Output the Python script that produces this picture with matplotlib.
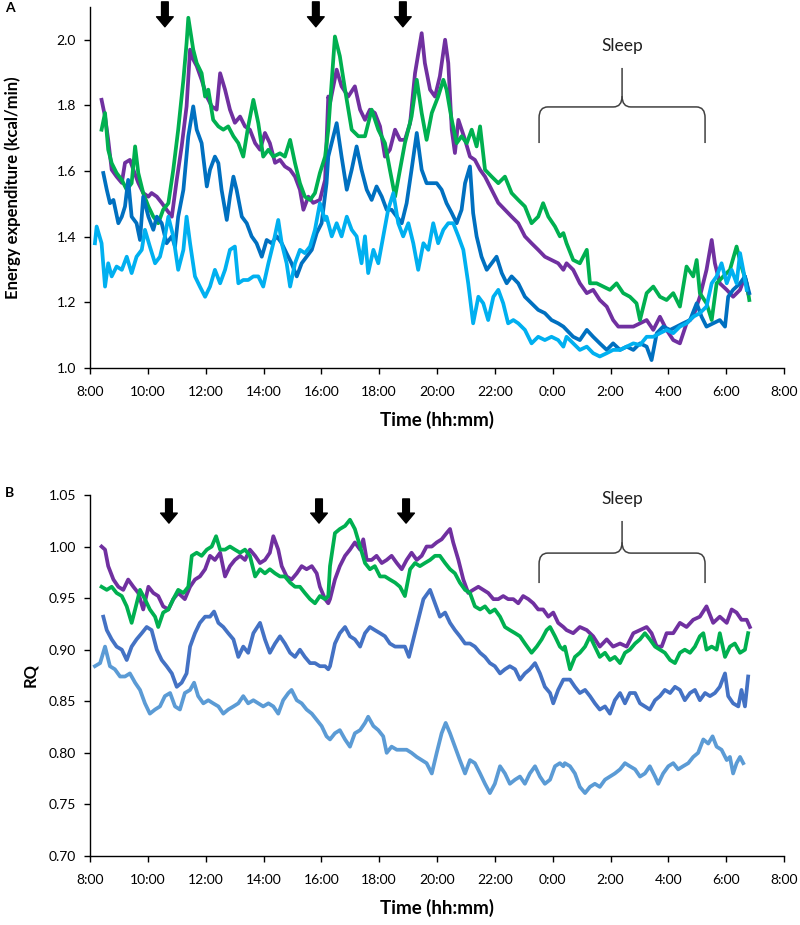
import matplotlib
matplotlib.use("Agg")
import matplotlib.pyplot as plt
from matplotlib.path import Path
from matplotlib.patches import PathPatch
from matplotlib.transforms import blended_transform_factory

plt.rcParams['font.family'] = ['Lato', 'DejaVu Sans']

# time is hours after 8:00 (0 = 8:00, 24 = 8:00 next day)
tick_hours = list(range(0, 25, 2))
tick_labels = ["8:00", "10:00", "12:00", "14:00", "16:00", "18:00", "20:00",
               "22:00", "0:00", "2:00", "4:00", "6:00", "8:00"]

# Panel A - energy expenditure (kcal/min)
ee_purple = [
    (0.40, 1.817), (0.52, 1.766), (0.63, 1.695), (0.75, 1.604), (0.92, 1.583), (1.10, 1.564),
    (1.21, 1.625), (1.38, 1.634), (1.50, 1.604), (1.67, 1.564), (1.84, 1.533), (2.02, 1.522),
    (2.13, 1.533), (2.31, 1.522), (2.48, 1.503), (2.65, 1.482), (2.83, 1.461), (3.00, 1.573),
    (3.17, 1.675), (3.34, 1.797), (3.46, 1.97), (3.57, 1.94), (3.69, 1.92), (3.86, 1.878),
    (4.04, 1.827), (4.21, 1.797), (4.38, 1.787), (4.50, 1.898), (4.67, 1.848), (4.84, 1.787),
    (5.01, 1.747), (5.19, 1.766), (5.36, 1.736), (5.53, 1.726), (5.71, 1.685), (5.88, 1.665),
    (6.05, 1.716), (6.22, 1.685), (6.40, 1.625), (6.57, 1.634), (6.74, 1.614), (6.92, 1.604),
    (7.09, 1.583), (7.26, 1.543), (7.38, 1.482), (7.55, 1.522), (7.72, 1.503), (7.95, 1.512),
    (8.13, 1.573), (8.24, 1.827), (8.30, 1.807), (8.53, 1.909), (8.70, 1.858), (8.93, 1.827),
    (9.16, 1.858), (9.34, 1.787), (9.51, 1.756), (9.68, 1.787), (9.85, 1.777), (10.03, 1.736),
    (10.20, 1.644), (10.37, 1.665), (10.55, 1.726), (10.72, 1.695), (10.89, 1.695), (11.07, 1.746),
    (11.24, 1.898), (11.47, 2.02), (11.58, 1.929), (11.76, 1.848), (11.93, 1.827), (12.10, 1.889),
    (12.28, 2.0), (12.39, 1.929), (12.51, 1.726), (12.62, 1.655), (12.74, 1.756), (12.97, 1.695),
    (13.14, 1.644), (13.31, 1.634), (13.49, 1.604), (13.66, 1.583), (13.89, 1.543), (14.12, 1.503),
    (14.35, 1.482), (14.58, 1.461), (14.81, 1.441), (15.04, 1.401), (15.27, 1.380), (15.50, 1.360),
    (15.73, 1.339), (15.96, 1.329), (16.19, 1.319), (16.37, 1.299), (16.48, 1.319), (16.71, 1.299),
    (16.94, 1.258), (17.18, 1.228), (17.40, 1.238), (17.63, 1.207), (17.87, 1.187), (18.09, 1.146),
    (18.27, 1.126), (18.56, 1.126), (18.79, 1.126), (19.02, 1.136), (19.25, 1.146), (19.48, 1.116),
    (19.71, 1.156), (19.94, 1.116), (20.17, 1.085), (20.40, 1.075), (20.63, 1.136), (20.86, 1.156),
    (21.09, 1.217), (21.32, 1.299), (21.50, 1.390), (21.61, 1.319), (21.78, 1.258), (22.02, 1.238),
    (22.24, 1.217), (22.48, 1.238), (22.65, 1.279), (22.76, 1.228),
]
ee_green = [
    (0.40, 1.726), (0.52, 1.777), (0.63, 1.665), (0.75, 1.624), (0.92, 1.594), (1.10, 1.573),
    (1.27, 1.543), (1.44, 1.563), (1.56, 1.675), (1.67, 1.594), (1.84, 1.533), (2.02, 1.492),
    (2.19, 1.461), (2.36, 1.441), (2.53, 1.482), (2.71, 1.502), (2.88, 1.604), (3.05, 1.726),
    (3.23, 1.878), (3.34, 1.99), (3.40, 2.067), (3.57, 1.97), (3.69, 1.929), (3.86, 1.898),
    (3.98, 1.827), (4.09, 1.848), (4.26, 1.756), (4.44, 1.736), (4.61, 1.726), (4.78, 1.736),
    (4.96, 1.706), (5.13, 1.685), (5.30, 1.644), (5.47, 1.736), (5.65, 1.817), (5.82, 1.746),
    (5.99, 1.644), (6.17, 1.665), (6.34, 1.644), (6.57, 1.654), (6.74, 1.644), (6.92, 1.695),
    (7.09, 1.624), (7.26, 1.563), (7.43, 1.522), (7.61, 1.512), (7.78, 1.533), (7.95, 1.594),
    (8.13, 1.644), (8.24, 1.726), (8.47, 2.01), (8.64, 1.95), (8.82, 1.848), (9.05, 1.726),
    (9.28, 1.706), (9.51, 1.706), (9.74, 1.787), (9.97, 1.726), (10.20, 1.685), (10.37, 1.604),
    (10.55, 1.522), (10.72, 1.604), (10.89, 1.685), (11.12, 1.766), (11.30, 1.878), (11.47, 1.777),
    (11.64, 1.695), (11.82, 1.777), (12.04, 1.827), (12.22, 1.878), (12.33, 1.848), (12.51, 1.756),
    (12.68, 1.685), (12.85, 1.706), (13.03, 1.685), (13.20, 1.726), (13.37, 1.675), (13.49, 1.736),
    (13.66, 1.604), (13.89, 1.583), (14.12, 1.563), (14.35, 1.583), (14.58, 1.533), (14.81, 1.512),
    (15.04, 1.492), (15.27, 1.441), (15.50, 1.461), (15.67, 1.502), (15.85, 1.461), (16.08, 1.431),
    (16.25, 1.401), (16.37, 1.411), (16.48, 1.380), (16.71, 1.329), (16.94, 1.319), (17.18, 1.360),
    (17.29, 1.258), (17.52, 1.258), (17.75, 1.248), (17.98, 1.238), (18.21, 1.258), (18.44, 1.228),
    (18.67, 1.217), (18.90, 1.197), (19.02, 1.146), (19.25, 1.228), (19.48, 1.248), (19.71, 1.217),
    (19.94, 1.207), (20.17, 1.228), (20.40, 1.187), (20.63, 1.309), (20.86, 1.279), (20.98, 1.329),
    (21.09, 1.228), (21.32, 1.197), (21.50, 1.146), (21.67, 1.258), (21.90, 1.279), (22.13, 1.299),
    (22.36, 1.370), (22.53, 1.309), (22.71, 1.258), (22.80, 1.207),
]
ee_blue = [
    (0.46, 1.594), (0.58, 1.543), (0.69, 1.502), (0.81, 1.512), (0.98, 1.441), (1.10, 1.461),
    (1.21, 1.492), (1.32, 1.573), (1.44, 1.461), (1.61, 1.441), (1.73, 1.390), (1.84, 1.522),
    (2.02, 1.461), (2.19, 1.421), (2.31, 1.461), (2.48, 1.441), (2.65, 1.380), (2.83, 1.401),
    (2.94, 1.370), (3.05, 1.461), (3.23, 1.543), (3.40, 1.706), (3.57, 1.797), (3.69, 1.726),
    (3.86, 1.685), (4.04, 1.553), (4.15, 1.604), (4.32, 1.644), (4.44, 1.624), (4.55, 1.543),
    (4.73, 1.451), (4.84, 1.522), (4.96, 1.583), (5.07, 1.543), (5.25, 1.461), (5.42, 1.441),
    (5.59, 1.401), (5.76, 1.380), (5.94, 1.339), (6.11, 1.390), (6.28, 1.380), (6.46, 1.401),
    (6.63, 1.380), (6.80, 1.349), (6.97, 1.319), (7.15, 1.279), (7.32, 1.319), (7.49, 1.339),
    (7.67, 1.360), (7.84, 1.411), (8.01, 1.441), (8.18, 1.563), (8.24, 1.644), (8.53, 1.746),
    (8.70, 1.644), (8.88, 1.543), (9.05, 1.604), (9.22, 1.675), (9.39, 1.604), (9.57, 1.543),
    (9.74, 1.512), (9.91, 1.553), (10.09, 1.522), (10.26, 1.482), (10.43, 1.482), (10.61, 1.461),
    (10.78, 1.441), (10.95, 1.502), (11.12, 1.604), (11.30, 1.716), (11.47, 1.604), (11.64, 1.563),
    (11.82, 1.563), (11.99, 1.563), (12.16, 1.543), (12.33, 1.502), (12.51, 1.472), (12.68, 1.441),
    (12.85, 1.482), (12.97, 1.563), (13.14, 1.614), (13.25, 1.472), (13.37, 1.401), (13.54, 1.339),
    (13.72, 1.299), (13.89, 1.319), (14.06, 1.339), (14.24, 1.289), (14.41, 1.258), (14.58, 1.279),
    (14.81, 1.258), (15.04, 1.217), (15.27, 1.197), (15.50, 1.177), (15.73, 1.167), (15.96, 1.146),
    (16.19, 1.136), (16.37, 1.126), (16.48, 1.116), (16.71, 1.095), (16.94, 1.085), (17.18, 1.116),
    (17.40, 1.095), (17.63, 1.075), (17.87, 1.055), (18.09, 1.075), (18.33, 1.055), (18.56, 1.065),
    (18.79, 1.055), (19.02, 1.075), (19.25, 1.065), (19.42, 1.024), (19.60, 1.106), (19.82, 1.126),
    (20.06, 1.116), (20.29, 1.126), (20.51, 1.136), (20.75, 1.146), (20.98, 1.197), (21.15, 1.156),
    (21.32, 1.126), (21.55, 1.136), (21.78, 1.146), (21.96, 1.126), (22.07, 1.217), (22.24, 1.238),
    (22.48, 1.258), (22.65, 1.279), (22.80, 1.228),
]
ee_lightblue = [
    (0.17, 1.380), (0.23, 1.431), (0.40, 1.380), (0.52, 1.248), (0.63, 1.319), (0.75, 1.279),
    (0.92, 1.309), (1.10, 1.299), (1.27, 1.339), (1.44, 1.289), (1.61, 1.339), (1.79, 1.360),
    (1.90, 1.421), (2.07, 1.370), (2.25, 1.319), (2.42, 1.339), (2.59, 1.401), (2.71, 1.461),
    (2.88, 1.401), (3.05, 1.299), (3.23, 1.360), (3.34, 1.461), (3.46, 1.380), (3.63, 1.279),
    (3.80, 1.248), (3.98, 1.217), (4.15, 1.248), (4.32, 1.299), (4.50, 1.258), (4.67, 1.299),
    (4.84, 1.360), (5.01, 1.370), (5.13, 1.258), (5.30, 1.268), (5.47, 1.268), (5.65, 1.279),
    (5.82, 1.279), (5.99, 1.248), (6.17, 1.319), (6.34, 1.380), (6.51, 1.451), (6.63, 1.380),
    (6.80, 1.319), (6.92, 1.248), (7.09, 1.319), (7.26, 1.360), (7.43, 1.350), (7.61, 1.370),
    (7.78, 1.421), (7.95, 1.502), (8.13, 1.451), (8.18, 1.461), (8.36, 1.401), (8.53, 1.441),
    (8.70, 1.401), (8.88, 1.461), (9.05, 1.421), (9.22, 1.401), (9.39, 1.319), (9.51, 1.401),
    (9.62, 1.289), (9.80, 1.360), (9.97, 1.319), (10.14, 1.401), (10.31, 1.482), (10.49, 1.533),
    (10.66, 1.441), (10.83, 1.401), (11.01, 1.441), (11.18, 1.380), (11.35, 1.299), (11.53, 1.380),
    (11.70, 1.360), (11.87, 1.441), (12.04, 1.380), (12.22, 1.421), (12.39, 1.441), (12.56, 1.441),
    (12.74, 1.401), (12.91, 1.360), (13.08, 1.258), (13.25, 1.136), (13.43, 1.217), (13.60, 1.197),
    (13.77, 1.146), (13.95, 1.217), (14.12, 1.238), (14.29, 1.197), (14.46, 1.136), (14.64, 1.146),
    (14.81, 1.136), (15.04, 1.116), (15.27, 1.075), (15.50, 1.095), (15.73, 1.085), (15.96, 1.095),
    (16.19, 1.085), (16.37, 1.065), (16.48, 1.095), (16.71, 1.075), (16.94, 1.055), (17.18, 1.065),
    (17.40, 1.045), (17.63, 1.035), (17.87, 1.045), (18.09, 1.055), (18.33, 1.055), (18.56, 1.065),
    (18.79, 1.075), (19.02, 1.07), (19.25, 1.095), (19.48, 1.095), (19.71, 1.106), (19.94, 1.116),
    (20.17, 1.106), (20.40, 1.126), (20.63, 1.136), (20.86, 1.156), (21.09, 1.167), (21.32, 1.187),
    (21.50, 1.258), (21.67, 1.279), (21.84, 1.319), (22.02, 1.258), (22.19, 1.299), (22.36, 1.258),
    (22.48, 1.350), (22.59, 1.299), (22.71, 1.238),
]

# Panel B - respiratory quotient
rq_purple = [
    (0.40, 1.000), (0.52, 0.997), (0.63, 0.981), (0.81, 0.968), (0.98, 0.961), (1.15, 0.958),
    (1.32, 0.968), (1.50, 0.961), (1.67, 0.955), (1.84, 0.939), (2.02, 0.961), (2.19, 0.955),
    (2.36, 0.952), (2.53, 0.942), (2.71, 0.939), (2.88, 0.949), (3.05, 0.955), (3.28, 0.949),
    (3.46, 0.961), (3.63, 0.968), (3.80, 0.971), (3.98, 0.978), (4.15, 0.991), (4.32, 0.987),
    (4.50, 0.994), (4.67, 0.971), (4.84, 0.981), (5.01, 0.987), (5.19, 0.991), (5.36, 0.987),
    (5.53, 0.997), (5.71, 0.991), (5.88, 0.984), (6.05, 0.987), (6.22, 0.994), (6.34, 1.010),
    (6.51, 0.997), (6.63, 0.981), (6.80, 0.971), (6.97, 0.968), (7.15, 0.974), (7.32, 0.981),
    (7.49, 0.978), (7.67, 0.981), (7.84, 0.974), (7.95, 0.961), (8.13, 0.949), (8.24, 0.945),
    (8.30, 0.949), (8.47, 0.968), (8.64, 0.981), (8.82, 0.991), (8.99, 0.997), (9.16, 1.004),
    (9.34, 0.997), (9.45, 1.007), (9.57, 0.987), (9.74, 0.987), (9.91, 0.991), (10.09, 0.984),
    (10.26, 0.987), (10.43, 0.991), (10.61, 0.984), (10.78, 0.978), (10.95, 0.987), (11.12, 0.994),
    (11.30, 0.987), (11.47, 0.991), (11.64, 1.000), (11.82, 1.000), (11.99, 1.004), (12.16, 1.007),
    (12.33, 1.013), (12.45, 1.017), (12.56, 1.004), (12.74, 0.987), (12.91, 0.968), (13.08, 0.955),
    (13.25, 0.958), (13.43, 0.961), (13.60, 0.958), (13.77, 0.955), (13.95, 0.949), (14.12, 0.949),
    (14.29, 0.952), (14.46, 0.949), (14.64, 0.949), (14.81, 0.945), (14.98, 0.952), (15.16, 0.949),
    (15.33, 0.945), (15.50, 0.939), (15.67, 0.939), (15.85, 0.932), (16.02, 0.936), (16.19, 0.926),
    (16.37, 0.922), (16.48, 0.919), (16.71, 0.916), (16.94, 0.922), (17.18, 0.919), (17.40, 0.913),
    (17.63, 0.903), (17.87, 0.910), (18.09, 0.903), (18.33, 0.906), (18.56, 0.903), (18.79, 0.916),
    (19.02, 0.919), (19.25, 0.922), (19.42, 0.916), (19.60, 0.903), (19.77, 0.903), (19.94, 0.916),
    (20.17, 0.916), (20.40, 0.926), (20.63, 0.922), (20.86, 0.929), (21.09, 0.932), (21.32, 0.942),
    (21.55, 0.926), (21.78, 0.932), (22.02, 0.926), (22.19, 0.939), (22.36, 0.936), (22.53, 0.929),
    (22.71, 0.929), (22.82, 0.922),
]
rq_green = [
    (0.40, 0.961), (0.58, 0.958), (0.75, 0.961), (0.92, 0.955), (1.10, 0.952), (1.27, 0.942),
    (1.44, 0.926), (1.56, 0.939), (1.73, 0.958), (1.90, 0.949), (2.07, 0.939), (2.25, 0.932),
    (2.36, 0.922), (2.53, 0.936), (2.71, 0.939), (2.88, 0.949), (3.05, 0.958), (3.23, 0.955),
    (3.40, 0.961), (3.52, 0.991), (3.69, 0.994), (3.86, 0.991), (4.04, 0.997), (4.21, 1.000),
    (4.36, 1.010), (4.50, 0.997), (4.67, 0.997), (4.84, 1.000), (5.01, 0.997), (5.19, 0.994),
    (5.36, 0.997), (5.53, 0.991), (5.71, 0.971), (5.88, 0.978), (6.05, 0.974), (6.22, 0.978),
    (6.40, 0.974), (6.57, 0.971), (6.74, 0.971), (6.92, 0.965), (7.09, 0.961), (7.26, 0.961),
    (7.43, 0.955), (7.61, 0.949), (7.78, 0.945), (7.95, 0.952), (8.13, 0.949), (8.24, 0.952),
    (8.30, 0.981), (8.47, 1.013), (8.64, 1.017), (8.82, 1.020), (8.99, 1.026), (9.16, 1.017),
    (9.34, 1.000), (9.51, 0.984), (9.68, 0.978), (9.85, 0.981), (10.03, 0.971), (10.20, 0.971),
    (10.37, 0.968), (10.55, 0.965), (10.72, 0.961), (10.89, 0.952), (11.07, 0.978), (11.24, 0.984),
    (11.41, 0.981), (11.58, 0.984), (11.76, 0.987), (11.93, 0.991), (12.10, 0.991), (12.28, 0.984),
    (12.45, 0.978), (12.62, 0.974), (12.79, 0.965), (12.97, 0.958), (13.14, 0.955), (13.31, 0.942),
    (13.49, 0.939), (13.66, 0.942), (13.83, 0.936), (14.00, 0.939), (14.18, 0.932), (14.35, 0.922),
    (14.52, 0.919), (14.70, 0.916), (14.87, 0.913), (15.04, 0.906), (15.27, 0.897), (15.45, 0.903),
    (15.62, 0.910), (15.79, 0.919), (15.91, 0.922), (16.08, 0.913), (16.25, 0.903), (16.37, 0.900),
    (16.42, 0.903), (16.60, 0.881), (16.77, 0.893), (16.94, 0.897), (17.12, 0.903), (17.29, 0.913),
    (17.46, 0.903), (17.63, 0.893), (17.81, 0.897), (17.98, 0.890), (18.15, 0.893), (18.33, 0.887),
    (18.50, 0.897), (18.67, 0.900), (18.85, 0.906), (19.02, 0.910), (19.19, 0.916), (19.36, 0.910),
    (19.54, 0.903), (19.71, 0.900), (19.88, 0.897), (20.06, 0.890), (20.23, 0.887), (20.40, 0.897),
    (20.57, 0.900), (20.75, 0.897), (20.92, 0.903), (21.09, 0.913), (21.21, 0.916), (21.32, 0.900),
    (21.50, 0.903), (21.67, 0.900), (21.78, 0.916), (21.96, 0.893), (22.13, 0.903), (22.30, 0.906),
    (22.48, 0.897), (22.65, 0.900), (22.76, 0.916),
]
rq_blue = [
    (0.46, 0.932), (0.58, 0.919), (0.75, 0.910), (0.92, 0.903), (1.10, 0.900), (1.27, 0.890),
    (1.44, 0.903), (1.61, 0.910), (1.79, 0.916), (1.96, 0.922), (2.13, 0.919), (2.31, 0.900),
    (2.48, 0.890), (2.65, 0.884), (2.83, 0.877), (3.00, 0.864), (3.17, 0.868), (3.34, 0.877),
    (3.46, 0.903), (3.63, 0.916), (3.80, 0.926), (3.98, 0.932), (4.15, 0.932), (4.29, 0.937),
    (4.44, 0.926), (4.61, 0.922), (4.78, 0.916), (4.96, 0.910), (5.13, 0.893), (5.30, 0.903),
    (5.47, 0.897), (5.65, 0.916), (5.88, 0.926), (6.05, 0.910), (6.22, 0.897), (6.40, 0.906),
    (6.57, 0.913), (6.74, 0.906), (6.92, 0.897), (7.09, 0.893), (7.26, 0.900), (7.43, 0.893),
    (7.61, 0.887), (7.78, 0.887), (7.95, 0.884), (8.13, 0.884), (8.24, 0.881), (8.30, 0.884),
    (8.47, 0.906), (8.64, 0.916), (8.82, 0.922), (8.99, 0.913), (9.16, 0.910), (9.34, 0.903),
    (9.51, 0.916), (9.68, 0.922), (9.85, 0.919), (10.03, 0.916), (10.20, 0.913), (10.37, 0.906),
    (10.55, 0.903), (10.72, 0.903), (10.89, 0.903), (11.03, 0.893), (11.18, 0.910), (11.35, 0.929),
    (11.53, 0.949), (11.76, 0.958), (11.93, 0.945), (12.10, 0.932), (12.28, 0.936), (12.45, 0.926),
    (12.62, 0.919), (12.79, 0.913), (12.97, 0.906), (13.14, 0.906), (13.31, 0.903), (13.49, 0.897),
    (13.66, 0.893), (13.83, 0.887), (14.00, 0.884), (14.18, 0.877), (14.35, 0.881), (14.52, 0.884),
    (14.70, 0.881), (14.87, 0.871), (15.04, 0.877), (15.21, 0.881), (15.39, 0.887), (15.56, 0.877),
    (15.73, 0.864), (15.91, 0.858), (16.02, 0.848), (16.19, 0.861), (16.37, 0.871), (16.42, 0.871),
    (16.60, 0.871), (16.77, 0.864), (16.94, 0.858), (17.12, 0.861), (17.29, 0.855), (17.46, 0.848),
    (17.63, 0.842), (17.81, 0.845), (17.98, 0.838), (18.15, 0.851), (18.33, 0.858), (18.50, 0.848),
    (18.67, 0.858), (18.85, 0.858), (19.02, 0.848), (19.19, 0.845), (19.36, 0.842), (19.54, 0.851),
    (19.71, 0.855), (19.88, 0.861), (20.06, 0.858), (20.23, 0.864), (20.40, 0.861), (20.57, 0.851),
    (20.75, 0.858), (20.92, 0.861), (21.09, 0.851), (21.27, 0.858), (21.44, 0.855), (21.61, 0.858),
    (21.78, 0.864), (21.96, 0.877), (22.07, 0.855), (22.24, 0.848), (22.42, 0.845), (22.53, 0.861),
    (22.65, 0.845), (22.76, 0.874),
]
rq_lightblue = [
    (0.17, 0.884), (0.35, 0.887), (0.52, 0.903), (0.69, 0.884), (0.86, 0.881), (1.04, 0.874),
    (1.21, 0.874), (1.38, 0.877), (1.56, 0.868), (1.73, 0.861), (1.90, 0.848), (2.07, 0.838),
    (2.25, 0.842), (2.42, 0.845), (2.59, 0.855), (2.77, 0.858), (2.94, 0.845), (3.11, 0.842),
    (3.28, 0.858), (3.46, 0.861), (3.60, 0.868), (3.74, 0.855), (3.92, 0.848), (4.09, 0.851),
    (4.26, 0.848), (4.44, 0.845), (4.61, 0.838), (4.78, 0.842), (4.96, 0.845), (5.13, 0.848),
    (5.30, 0.855), (5.47, 0.848), (5.65, 0.851), (5.82, 0.848), (5.99, 0.845), (6.17, 0.848),
    (6.34, 0.845), (6.51, 0.838), (6.68, 0.851), (6.86, 0.858), (6.97, 0.861), (7.15, 0.851),
    (7.32, 0.848), (7.49, 0.842), (7.67, 0.838), (7.84, 0.832), (8.01, 0.826), (8.18, 0.816),
    (8.30, 0.813), (8.47, 0.819), (8.64, 0.822), (8.82, 0.813), (8.99, 0.806), (9.16, 0.819),
    (9.34, 0.822), (9.51, 0.829), (9.62, 0.835), (9.80, 0.826), (9.97, 0.822), (10.14, 0.816),
    (10.26, 0.800), (10.43, 0.806), (10.61, 0.803), (10.78, 0.803), (10.95, 0.803), (11.12, 0.800),
    (11.30, 0.796), (11.47, 0.793), (11.64, 0.790), (11.82, 0.780), (11.99, 0.800), (12.16, 0.819),
    (12.30, 0.829), (12.45, 0.819), (12.62, 0.806), (12.79, 0.793), (12.97, 0.780), (13.14, 0.793),
    (13.31, 0.790), (13.49, 0.780), (13.66, 0.770), (13.83, 0.761), (14.00, 0.770), (14.18, 0.787),
    (14.35, 0.780), (14.52, 0.770), (14.70, 0.774), (14.87, 0.777), (15.04, 0.770), (15.21, 0.780),
    (15.39, 0.787), (15.56, 0.777), (15.73, 0.770), (15.91, 0.774), (16.08, 0.787), (16.25, 0.790),
    (16.37, 0.787), (16.42, 0.790), (16.60, 0.787), (16.77, 0.780), (16.94, 0.767), (17.12, 0.761),
    (17.29, 0.767), (17.46, 0.770), (17.63, 0.767), (17.81, 0.774), (17.98, 0.777), (18.15, 0.780),
    (18.33, 0.784), (18.50, 0.790), (18.67, 0.787), (18.85, 0.784), (19.02, 0.777), (19.19, 0.780),
    (19.36, 0.787), (19.54, 0.777), (19.65, 0.770), (19.82, 0.780), (20.00, 0.787), (20.17, 0.790),
    (20.34, 0.784), (20.51, 0.787), (20.69, 0.790), (20.86, 0.796), (21.03, 0.800), (21.21, 0.813),
    (21.38, 0.809), (21.53, 0.816), (21.67, 0.806), (21.84, 0.803), (22.02, 0.793), (22.13, 0.796),
    (22.24, 0.780), (22.36, 0.790), (22.48, 0.796), (22.59, 0.790),
]

meal_hours_a = [2.59, 7.81, 10.82]
meal_hours_b = [2.73, 7.92, 10.93]
sleep_start, sleep_end = 15.53, 21.27


def draw_brace(ax, x0, x1, y_end, y_bar, y_peak):
    # curly bracket: x in data hours, y in axes fraction
    tr = blended_transform_factory(ax.transData, ax.transAxes)
    xm = (x0 + x1) / 2
    rx, ry = 0.3, 0.03
    verts = [(x0, y_end), (x0, y_bar - ry), (x0, y_bar), (x0 + rx, y_bar),
             (xm - rx, y_bar), (xm, y_bar), (xm, y_bar + ry), (xm, y_peak)]
    codes = [Path.MOVETO, Path.LINETO, Path.CURVE3, Path.CURVE3,
             Path.LINETO, Path.CURVE3, Path.CURVE3, Path.LINETO]
    verts2 = [(x1, y_end), (x1, y_bar - ry), (x1, y_bar), (x1 - rx, y_bar),
              (xm + rx, y_bar), (xm, y_bar), (xm, y_bar + ry)]
    codes2 = [Path.MOVETO, Path.LINETO, Path.CURVE3, Path.CURVE3,
              Path.LINETO, Path.CURVE3, Path.CURVE3]
    for v, c in ((verts, codes), (verts2, codes2)):
        ax.add_patch(PathPatch(Path(v, c), transform=tr, fill=False,
                               edgecolor="#404040", linewidth=1.1, clip_on=False))
    ax.text(xm, y_peak + 0.06, "Sleep", transform=tr, ha="center", va="center",
            fontsize=12.5, color="#202020")


def draw_arrows(ax, hours, y_top, y_tip):
    for h in hours:
        ax.annotate("", xy=(h, y_tip), xytext=(h, y_top),
                    xycoords=("data", "axes fraction"), textcoords=("data", "axes fraction"),
                    arrowprops=dict(arrowstyle="simple,head_length=0.6,head_width=1.0,tail_width=0.4",
                                    color="black", mutation_scale=12, shrinkA=0, shrinkB=0),
                    annotation_clip=False)


def style_axes(ax, ylim, yticks, yfmt, ylabel, ylabel_x):
    ax.set_xlim(0, 24)
    ax.set_ylim(*ylim)
    ax.set_xticks(tick_hours)
    ax.set_xticklabels(tick_labels)
    ax.set_yticks(yticks)
    ax.set_yticklabels([yfmt.format(v) for v in yticks])
    for side in ("top", "right"):
        ax.spines[side].set_visible(False)
    for side in ("left", "bottom"):
        ax.spines[side].set_linewidth(1.0)
    ax.tick_params(axis="both", length=4, width=1.0, labelsize=10, colors="black")
    ax.tick_params(axis="x", pad=9)
    ax.tick_params(axis="y", pad=6)
    ax.set_xlabel("Time (hh:mm)", fontsize=13.5, fontweight="bold")
    ax.set_ylabel(ylabel, fontsize=12, fontweight="bold")
    ax.xaxis.set_label_coords(0.5, -0.118)
    ax.yaxis.set_label_coords(ylabel_x, 0.5)


fig = plt.figure(figsize=(8.0, 9.25), dpi=100)
ax_a = fig.add_axes([0.1125, 0.6022, 0.8675, 0.3903])
ax_b = fig.add_axes([0.1125, 0.0746, 0.8675, 0.3903])

series_a = [(ee_purple, "#7030A0"), (ee_green, "#00B050"),
            (ee_blue, "#0070C0"), (ee_lightblue, "#00B0F0")]
for data, color in series_a:
    t, v = zip(*data)
    ax_a.plot(t, v, color=color, linewidth=2.7, solid_joinstyle="round")

series_b = [(rq_purple, "#7030A0"), (rq_green, "#00B050"),
            (rq_blue, "#4472C4"), (rq_lightblue, "#5B9BD5")]
for data, color in series_b:
    t, v = zip(*data)
    ax_b.plot(t, v, color=color, linewidth=2.7, solid_joinstyle="round")

style_axes(ax_a, (1.0, 2.1), [1.0, 1.2, 1.4, 1.6, 1.8, 2.0], "{:.1f}",
           "Energy expenditure (kcal/min)", -0.1)
style_axes(ax_b, (0.70, 1.05), [0.70, 0.75, 0.80, 0.85, 0.90, 0.95, 1.00, 1.05], "{:.2f}",
           "RQ", -0.075)

draw_arrows(ax_a, meal_hours_a, 1.014, 0.945)
draw_arrows(ax_b, meal_hours_b, 0.989, 0.922)
draw_brace(ax_a, sleep_start, sleep_end, 0.623, 0.723, 0.831)
draw_brace(ax_b, sleep_start, sleep_end, 0.756, 0.839, 0.928)

fig.text(0.006, 0.991, "A", fontsize=10, fontweight="bold", va="center")
fig.text(0.006, 0.467, "B", fontsize=10, fontweight="bold", va="center")

fig.savefig("out.png", dpi=100)
